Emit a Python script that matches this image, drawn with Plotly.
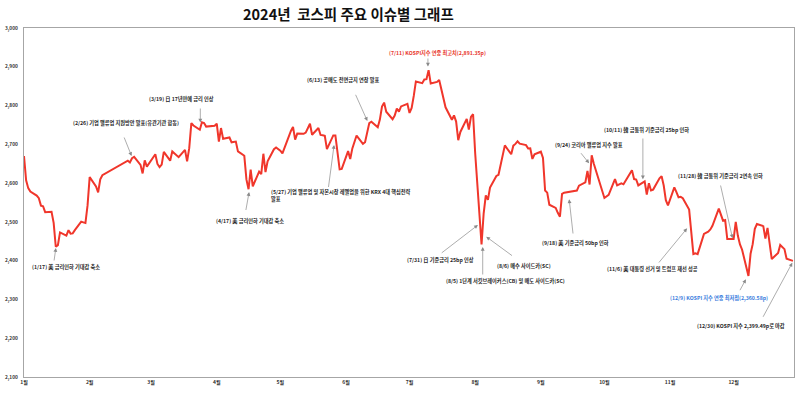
import plotly.graph_objects as go

# ---------------- data ----------------
dates = [
    "2024-01-02","2024-01-03","2024-01-04","2024-01-05","2024-01-08","2024-01-09","2024-01-10","2024-01-11",
    "2024-01-12","2024-01-15","2024-01-16","2024-01-17","2024-01-18","2024-01-19","2024-01-22","2024-01-23",
    "2024-01-24","2024-01-25","2024-01-26","2024-01-29","2024-01-30","2024-01-31","2024-02-01","2024-02-02",
    "2024-02-05","2024-02-06","2024-02-07","2024-02-08",
    "2024-02-20","2024-02-21","2024-02-22","2024-02-23","2024-02-26","2024-02-27","2024-02-28","2024-02-29",
    "2024-03-04","2024-03-05","2024-03-06","2024-03-07","2024-03-08","2024-03-11","2024-03-12",
    "2024-03-15","2024-03-18","2024-03-19","2024-03-20","2024-03-21","2024-03-22","2024-03-25","2024-03-26",
    "2024-03-27","2024-03-28","2024-03-29","2024-04-01","2024-04-02","2024-04-03","2024-04-04","2024-04-05",
    "2024-04-08","2024-04-09","2024-04-11","2024-04-12","2024-04-15","2024-04-16","2024-04-17","2024-04-18",
    "2024-04-19","2024-04-22","2024-04-23","2024-04-24","2024-04-25","2024-04-26","2024-04-29","2024-04-30",
    "2024-05-02","2024-05-03","2024-05-07","2024-05-08","2024-05-09","2024-05-10","2024-05-13","2024-05-14",
    "2024-05-16","2024-05-17","2024-05-20","2024-05-21","2024-05-22","2024-05-23","2024-05-24","2024-05-27",
    "2024-05-28","2024-05-29","2024-05-30","2024-05-31","2024-06-03","2024-06-04","2024-06-05","2024-06-07",
    "2024-06-10","2024-06-11","2024-06-12","2024-06-13","2024-06-14","2024-06-17","2024-06-18","2024-06-19",
    "2024-06-20","2024-06-21","2024-06-24","2024-06-25","2024-06-26","2024-06-27","2024-06-28","2024-07-01",
    "2024-07-02","2024-07-03","2024-07-04","2024-07-05","2024-07-08","2024-07-09","2024-07-10","2024-07-11",
    "2024-07-12","2024-07-15","2024-07-16","2024-07-17","2024-07-18","2024-07-19","2024-07-22","2024-07-23",
    "2024-07-24","2024-07-25","2024-07-26","2024-07-29","2024-07-30","2024-07-31","2024-08-01","2024-08-02",
    "2024-08-05","2024-08-06","2024-08-07","2024-08-08","2024-08-09","2024-08-12","2024-08-13","2024-08-14",
    "2024-08-16","2024-08-19","2024-08-20","2024-08-21","2024-08-22","2024-08-23","2024-08-26","2024-08-27",
    "2024-08-28","2024-08-29","2024-08-30","2024-09-02","2024-09-03","2024-09-04","2024-09-05","2024-09-06",
    "2024-09-09","2024-09-10","2024-09-11","2024-09-12","2024-09-13","2024-09-19","2024-09-20","2024-09-23",
    "2024-09-24","2024-09-25","2024-09-26","2024-09-27","2024-09-30","2024-10-02","2024-10-04","2024-10-07",
    "2024-10-08","2024-10-10","2024-10-11","2024-10-14","2024-10-15","2024-10-16","2024-10-17","2024-10-18",
    "2024-10-21","2024-10-22","2024-10-23","2024-10-24","2024-10-25","2024-10-28","2024-10-29","2024-10-30",
    "2024-10-31","2024-11-01","2024-11-04","2024-11-05","2024-11-06","2024-11-07","2024-11-08","2024-11-11",
    "2024-11-12","2024-11-13","2024-11-14","2024-11-15","2024-11-18","2024-11-19","2024-11-20","2024-11-21",
    "2024-11-22","2024-11-25","2024-11-26","2024-11-27","2024-11-28","2024-11-29","2024-12-02","2024-12-03",
    "2024-12-04","2024-12-05","2024-12-06","2024-12-09","2024-12-10","2024-12-11","2024-12-12","2024-12-13",
    "2024-12-16","2024-12-17","2024-12-18","2024-12-19","2024-12-20","2024-12-23","2024-12-24","2024-12-26",
    "2024-12-27","2024-12-30",
]
kospi = [
    2669.81,2607.31,2587.02,2578.08,2567.82,2561.24,2541.98,2540.27,
    2525.05,2525.99,2497.59,2435.90,2440.04,2472.74,2464.35,2478.61,
    2469.69,2470.34,2478.56,2500.65,2498.81,2497.09,2542.46,2615.31,
    2591.31,2576.20,2609.58,2620.32,
    2658.00,2653.31,2664.27,2667.70,2647.08,2625.05,2658.84,2642.36,
    2674.27,2649.40,2641.49,2647.62,2680.35,2657.76,2681.81,
    2666.84,2685.84,2656.17,2690.14,2754.86,2748.56,2737.57,2757.09,
    2755.11,2745.82,2746.63,2747.86,2753.16,2706.97,2742.00,2714.21,
    2717.65,2705.16,2706.96,2681.82,2670.43,2609.63,2584.18,2634.70,
    2591.86,2629.44,2623.02,2675.75,2628.62,2656.33,2687.44,2692.06,
    2683.65,2676.63,2734.36,2745.05,2712.14,2727.63,2727.21,2730.34,
    2753.00,2724.62,2742.14,2724.18,2723.46,2721.81,2687.60,2722.99,
    2722.85,2677.57,2635.44,2636.52,2682.52,2662.10,2689.50,2722.67,
    2701.17,2705.40,2728.17,2754.89,2758.42,2744.10,2763.92,2797.33,
    2807.63,2784.06,2764.73,2774.39,2792.05,2784.26,2797.82,2804.31,
    2780.86,2794.01,2824.94,2862.23,2857.76,2867.38,2867.99,2891.35,
    2857.00,2860.92,2866.09,2843.06,2824.35,2795.46,2763.51,2774.82,
    2758.71,2710.65,2731.90,2765.52,2738.19,2770.69,2777.68,2676.19,
    2441.55,2522.15,2568.41,2556.73,2588.43,2618.30,2621.50,2644.50,
    2697.23,2674.36,2696.63,2701.13,2707.67,2701.69,2698.01,2689.25,
    2689.83,2662.28,2674.31,2681.00,2664.63,2580.80,2575.41,2544.28,
    2535.93,2523.43,2513.37,2572.09,2575.41,2580.80,2593.37,2602.01,
    2631.68,2596.32,2671.57,2649.78,2593.27,2561.69,2569.71,2610.38,
    2594.36,2599.16,2596.91,2623.29,2633.45,2610.36,2609.30,2593.94,
    2604.60,2570.70,2599.62,2581.03,2583.27,2612.43,2617.80,2593.79,
    2556.15,2542.36,2588.97,2576.88,2563.51,2564.63,2561.15,2531.66,
    2482.57,2417.08,2418.86,2416.86,2469.07,2471.95,2475.00,2480.63,
    2490.00,2534.34,2520.36,2503.06,2504.67,2455.91,2455.89,2500.10,
    2464.00,2441.85,2428.16,2360.58,2417.84,2442.51,2482.12,2494.46,
    2488.97,2456.81,2484.43,2435.93,2404.15,2420.00,2440.52,2429.67,
    2404.77,2399.49,
]

month_ticks = ["2024-01-02","2024-02-02","2024-03-02","2024-04-02","2024-05-02","2024-06-02",
               "2024-07-02","2024-08-02","2024-09-02","2024-10-02","2024-11-02","2024-12-02"]
month_labels = ["1월","2월","3월","4월","5월","6월","7월","8월","9월","10월","11월","12월"]
y_ticks = [2100, 2200, 2300, 2400, 2500, 2600, 2700, 2800, 2900, 3000]

title_text = "2024년  코스피 주요 이슈별 그래프"

# events: text, text position (px), arrow tail (px), arrow head (px), colour, alignment
events = [
    ("(1/17) 美 금리인하 기대감 축소", (64, 267), (52, 262), (54, 248), "#262626", "center"),
    ("(2/26) 기업 밸류업 지원방안 발표(유관기관 합동)", (124, 123), (122, 136), (130, 156), "#262626", "center"),
    ("(3/19) 日 17년만에 금리 인상", (180, 99), (199, 107), (199, 122.5), "#262626", "center"),
    ("(4/17) 美 금리인하 기대감 축소", (249, 221), (244.5, 211.5), (248, 192), "#262626", "center"),
    ("(5/27) 기업 밸류업 및 자본시장 레벨업을 위한 KRX 4대 핵심전략<br>발표", (268, 195), (327.5, 188.5), (333.3, 145), "#262626", "left"),
    ("(6/13) 공매도 전면금지 연장 발표", (343, 80), (354.3, 93.3), (366.7, 121), "#262626", "center"),
    ("(7/11) KOSPI지수 연중 최고치(2,891.35p)", (436.7, 53), (427.5, 57), (427.5, 66.5), "#e8352a", "center"),
    ("(7/31) 日 기준금리 25bp 인상", (440, 260), (440, 254), (477.7, 225), "#262626", "center"),
    ("(8/5) 1단계 서킷브레이커스(CB) 및 매도 사이드카(SC)", (505, 281), (482.5, 276), (482.5, 247), "#262626", "center"),
    ("(8/6) 매수 사이드카(SC)", (523.7, 266), (513.3, 256.7), (486, 236.7), "#262626", "center"),
    ("(9/18) 美 기준금리 50bp 인하", (575.5, 243), (573.3, 235), (569.3, 199.3), "#262626", "center"),
    ("(9/24) 코리아 밸류업 지수 발표", (589, 145), (580, 151.7), (589.3, 163.3), "#262626", "center"),
    ("(10/11) 韓 금통위 기준금리 25bp 인하", (647, 130), (643.3, 137), (643.3, 179.3), "#262626", "center"),
    ("(11/28) 韓 금통위 기준금리 2연속 인하", (721, 176), (721, 184), (733.3, 238.3), "#262626", "center"),
    ("(11/6) 美 대통령 선거 및 트럼프 재선 성공", (653, 269), (658.3, 264), (687.7, 228.3), "#262626", "center"),
    ("(12/9) KOSPI 지수 연중 최저점(2,360.58p)", (720, 298), (740, 291.7), (746.7, 279.3), "#3b7ddd", "center"),
    ("(12/30) KOSPI 지수 2,399.49p로 마감", (741.7, 326), (763.3, 318.3), (793.3, 262.7), "#262626", "center"),
]

# ---------------- layout helpers ----------------
L, R, T, B = 22, 795, 28, 377
W, H = 800, 399


def PX(x):
    return (x - L) / (R - L)


def PY(y):
    return (B - y) / (B - T)


FONT = "Noto Sans CJK KR"

fig = go.Figure()
fig.add_trace(go.Scatter(x=dates, y=kospi, mode="lines",
                         line=dict(color="#f0362b", width=2),
                         hoverinfo="x+y", showlegend=False))

annotations = []
for text, (tx, ty), (ax_, ay_), (hx, hy), col, al in events:
    annotations.append(dict(
        x=PX(hx), y=PY(hy), xref="paper", yref="paper", text="",
        showarrow=True, ax=ax_ - hx, ay=ay_ - hy, axref="pixel", ayref="pixel",
        arrowhead=2, arrowsize=1.1, arrowwidth=0.7, arrowcolor="#8a8a8a", standoff=0,
    ))
    annotations.append(dict(
        x=PX(tx), y=PY(ty), xref="paper", yref="paper", text=text, showarrow=False,
        xanchor="left" if al == "left" else "center", yanchor="middle", align=al,
        font=dict(family=FONT, size=5.2, color=col, weight="bold"),
    ))

annotations.append(dict(
    x=PX(348), y=PY(13), xref="paper", yref="paper", text=title_text, showarrow=False,
    xanchor="center", yanchor="middle",
    font=dict(family=FONT, size=14.5, color="#111111", weight="bold"),
))

fig.update_layout(
    width=W, height=H, autosize=False,
    margin=dict(l=L, r=W - R, t=T, b=H - B, pad=0),
    paper_bgcolor="white", plot_bgcolor="white",
    annotations=annotations,
    xaxis=dict(type="date", range=["2024-01-02", "2024-12-30 12:00"],
               tickvals=month_ticks, ticktext=month_labels,
               showline=True, linecolor="#a6a6a6", linewidth=1.3, mirror=True,
               showgrid=False, zeroline=False, ticks="",
               tickfont=dict(family=FONT, size=5, color="#333333", weight="bold")),
    yaxis=dict(range=[2100, 3000], tickvals=y_ticks,
               ticktext=[f"{v:,}" for v in y_ticks],
               showline=True, linecolor="#a6a6a6", linewidth=1.3, mirror=True,
               showgrid=False, zeroline=False, ticks="", ticklabelstandoff=4,
               tickfont=dict(family=FONT, size=4.8, color="#333333", weight="bold")),
)

fig.write_html("out.html", config={"displayModeBar": False},
               post_script="document.body.style.margin='0';")
